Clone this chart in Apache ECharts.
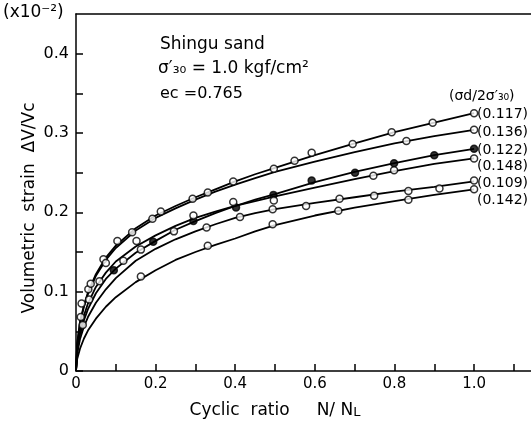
<!DOCTYPE html>
<html>
<head>
<meta charset="utf-8">
<script src="https://cdn.jsdelivr.net/npm/echarts@6/dist/echarts.min.js"></script>
<style>
html, body { margin: 0; padding: 0; background: #fff; }
#main { width: 531px; height: 429px; }
</style>
</head>
<body>
<div id="main"></div>
<script>
// curves (x = N/NL, y = volumetric strain x1e-2)
var curveX   = [0, 0.003, 0.01, 0.02, 0.03, 0.05, 0.075, 0.1, 0.15, 0.2, 0.25, 0.3, 0.35, 0.4, 0.45, 0.5, 0.6, 0.7, 0.8, 0.9, 1.0];
var curve117 = [0, 0.035, 0.062, 0.083, 0.099, 0.122, 0.143, 0.158, 0.180, 0.196, 0.208, 0.219, 0.229, 0.239, 0.248, 0.256, 0.272, 0.287, 0.301, 0.313, 0.325];
var curve136 = [0, 0.034, 0.060, 0.081, 0.097, 0.120, 0.140, 0.155, 0.177, 0.193, 0.205, 0.216, 0.226, 0.235, 0.243, 0.251, 0.264, 0.276, 0.287, 0.296, 0.304];
var curve122 = [0, 0.025, 0.046, 0.064, 0.078, 0.098, 0.116, 0.129, 0.149, 0.164, 0.178, 0.189, 0.199, 0.208, 0.216, 0.223, 0.238, 0.251, 0.262, 0.272, 0.280];
var curve148 = [0, 0.028, 0.050, 0.070, 0.085, 0.106, 0.124, 0.138, 0.157, 0.171, 0.183, 0.193, 0.201, 0.208, 0.214, 0.220, 0.231, 0.242, 0.252, 0.261, 0.268];
var curve109 = [0, 0.022, 0.040, 0.056, 0.068, 0.086, 0.103, 0.117, 0.139, 0.154, 0.166, 0.176, 0.185, 0.193, 0.199, 0.204, 0.212, 0.219, 0.226, 0.232, 0.239];
var curve142 = [0, 0.015, 0.028, 0.041, 0.051, 0.066, 0.081, 0.093, 0.112, 0.127, 0.140, 0.150, 0.159, 0.167, 0.176, 0.184, 0.196, 0.206, 0.214, 0.222, 0.229];

// measured points
var pts117 = [[0.012,0.068],[0.031,0.103],[0.069,0.141],[0.104,0.164],[0.141,0.175],[0.213,0.201],[0.293,0.217],[0.331,0.225],[0.395,0.239],[0.497,0.255],[0.592,0.275],[0.695,0.286],[0.793,0.301],[0.896,0.313],[1.0,0.325]];
var pts136 = [[0.014,0.085],[0.037,0.110],[0.075,0.136],[0.192,0.192],[0.549,0.265],[0.830,0.290],[1.0,0.304]];
var pts122 = [[0.095,0.127],[0.194,0.163],[0.295,0.189],[0.402,0.206],[0.496,0.222],[0.592,0.240],[0.701,0.250],[0.799,0.262],[0.900,0.272],[1.0,0.280]];
var pts148 = [[0.033,0.090],[0.059,0.113],[0.119,0.139],[0.152,0.164],[0.246,0.176],[0.295,0.196],[0.395,0.213],[0.497,0.215],[0.747,0.246],[0.799,0.253],[1.0,0.268]];
var pts109 = [[0.017,0.058],[0.163,0.153],[0.328,0.181],[0.412,0.194],[0.494,0.204],[0.578,0.208],[0.662,0.217],[0.749,0.221],[0.835,0.227],[0.913,0.230],[1.0,0.240]];
var pts142 = [[0.163,0.119],[0.331,0.158],[0.494,0.185],[0.659,0.202],[0.835,0.216],[1.0,0.229]];

var ratioLabels = ['(0.117)', '(0.136)', '(0.122)', '(0.148)', '(0.109)', '(0.142)'];
var ratioLabelY = [114, 132, 150, 166, 183, 200];

var fnt = 'DejaVu Sans';

function zip(xs, ys) {
	var out = [];
	for (var i = 0; i < xs.length; i++) out.push([xs[i], ys[i]]);
	return out;
}
function lineSeries(ys) {
	return {
		type : 'line',
		data : zip(curveX, ys),
		showSymbol : false,
		symbol : 'none',
		lineStyle : { color : '#000', width : 1.8 },
		z : 2,
		silent : true
	};
}
function pointSeries(pts, filled) {
	return {
		type : 'scatter',
		data : pts,
		symbol : 'circle',
		symbolSize : 7,
		itemStyle : {
			color : filled ? '#000' : '#fff',
			borderColor : '#000',
			borderWidth : 1.5
		},
		z : 3
	};
}

var myChart = echarts.init(document.getElementById('main'));

var graphics = [
	{ type : 'text', left : 3, top : 4, style : { text : '(x10\u207B\u00B2)', font : '17px ' + fnt, fill : '#000' } },
	{ type : 'text', x : 30, y : 208, rotation : Math.PI / 2, style : { text : 'Volumetric  strain  \u0394V/Vc', font : '17px ' + fnt, fill : '#000', align : 'center', verticalAlign : 'middle' } },
	{ type : 'text', x : 275, y : 411, style : { text : 'Cyclic  ratio     N/ N{s|L}', font : '17px ' + fnt, fill : '#000', align : 'center', verticalAlign : 'middle', rich : { s : { fontSize : 13, fontFamily : fnt, padding : [4, 0, 0, 0] } } } },
	{ type : 'text', left : 160, top : 36, style : { text : 'Shingu sand', font : '17px ' + fnt, fill : '#000' } },
	{ type : 'text', left : 158, top : 60, style : { text : '\u03C3\u2032\u2083\u2080 = 1.0 kgf/cm\u00B2', font : '17px ' + fnt, fill : '#000' } },
	{ type : 'text', left : 160, top : 86, style : { text : 'ec =0.765', font : '16px ' + fnt, fill : '#000' } },
	{ type : 'text', x : 449, y : 96, style : { text : '(\u03C3d/2\u03C3\u2032\u2083\u2080)', font : '14px ' + fnt, fill : '#000', verticalAlign : 'middle' } }
];
for (var i = 0; i < ratioLabels.length; i++) {
	graphics.push({ type : 'text', x : 477, y : ratioLabelY[i], style : { text : ratioLabels[i], font : '14px ' + fnt, fill : '#000', verticalAlign : 'middle' } });
}

var option = {
	animation : false,
	backgroundColor : '#fff',
	grid : { left : 76, right : 0, top : 14, bottom : 58 },
	xAxis : [ {
		type : 'value',
		min : 0,
		max : 1.143,
		interval : 0.1,
		axisLine : { lineStyle : { color : '#000', width : 1.5 } },
		axisTick : { inside : true, length : 7, lineStyle : { color : '#000', width : 1.5 } },
		splitLine : { show : false },
		axisLabel : {
			color : '#000', fontSize : 15, fontFamily : fnt, margin : 6,
			showMaxLabel : false,
			formatter : function(v) {
				var k = Math.round(v * 10);
				if (Math.abs(v * 10 - k) > 1e-6 || k % 2 !== 0 || k > 10) return '';
				return k === 0 ? '0' : (k / 10).toFixed(1);
			}
		}
	}, {
		type : 'value', position : 'top', min : 0, max : 1.143,
		axisLine : { lineStyle : { color : '#000', width : 1.5 } },
		axisTick : { show : false }, axisLabel : { show : false }, splitLine : { show : false }
	} ],
	yAxis : {
		type : 'value',
		min : 0,
		max : 0.45,
		interval : 0.05,
		axisLine : { show : true, lineStyle : { color : '#000', width : 1.5 } },
		axisTick : { inside : true, length : 7, lineStyle : { color : '#000', width : 1.5 } },
		splitLine : { show : false },
		axisLabel : {
			color : '#000', fontSize : 16, fontFamily : fnt, margin : 7,
			showMaxLabel : false,
			formatter : function(v) {
				var k = Math.round(v * 20);
				if (k % 2 !== 0 || k > 8) return '';
				return k === 0 ? '0' : (k / 20).toFixed(1);
			}
		}
	},
	graphic : graphics,
	series : [
		lineSeries(curve117), lineSeries(curve136), lineSeries(curve122),
		lineSeries(curve148), lineSeries(curve109), lineSeries(curve142),
		pointSeries(pts117, false), pointSeries(pts136, false), pointSeries(pts122, true),
		pointSeries(pts148, false), pointSeries(pts109, false), pointSeries(pts142, false)
	]
};
myChart.setOption(option);
</script>
</body>
</html>
